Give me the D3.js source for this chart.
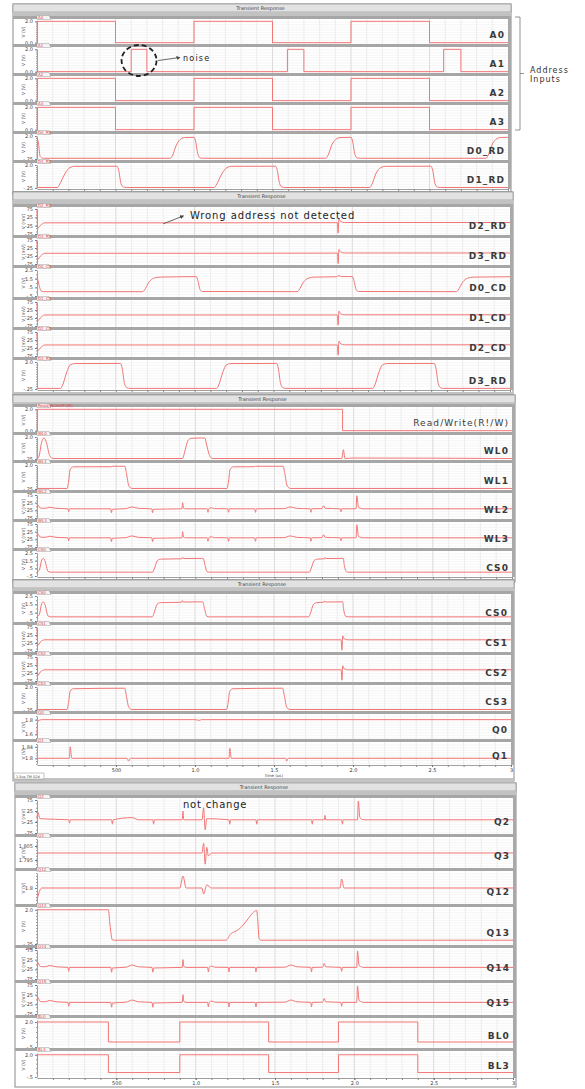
<!DOCTYPE html>
<html>
<head>
<meta charset="utf-8">
<script src="https://cdn.jsdelivr.net/npm/d3@7"></script>
<style>
body { margin: 0; background: #fff; }
svg { display: block; }
text { font-family: "DejaVu Sans", sans-serif; }
</style>
</head>
<body>
<script>
// time axis (us)
var tMax = 3.0;
var xTickVals = [0.5, 1.0, 1.5, 2.0, 2.5, 3.0];
var xTickText = ['500', '1.0', '1.5', '2.0', '2.5', '3'];

// ---- signals: [time (us), value] ----
var A0 = [[0,0],[0.002,2],[0.5,0],[1.0,2],[1.5,0],[2.0,2],[2.5,0],[3,0]];
var A1 = [[0,0],[0.6,2],[0.7,0],[1.595,2],[1.7,0],[2.59,2],[2.7,0],[3,0]];
var A2 = [[0,0],[0.002,2],[0.5,0],[1.0,2],[1.5,0],[2.0,2],[2.5,0],[3,0]];
var A3 = [[0,0],[0.002,2],[0.5,0],[1.0,2],[1.5,0],[2.0,2],[2.5,0],[3,0]];

var D0_RD = [[0,1.9],[0.01,1.2],[0.02,0.0],[0.04,-0.18],[0.85,-0.18],[0.86,0.0],[0.89,1.2],[0.92,1.75],[0.94,1.85],[1.0,1.87],[1.01,1.5],[1.025,0.2],[1.04,-0.15],[1.06,-0.18],
  [1.84,-0.18],[1.85,0.0],[1.88,1.2],[1.91,1.75],[1.93,1.85],[2.0,1.87],[2.01,1.5],[2.025,0.2],[2.04,-0.15],[2.06,-0.18],[2.86,-0.18],[2.87,0],[2.9,1.2],[2.93,1.75],[2.95,1.85],[3,1.87]];
var D1_RD = [[0,-0.2],[0.13,-0.2],[0.14,0],[0.18,1.2],[0.21,1.75],[0.24,1.87],[0.51,1.88],[0.52,1.5],[0.535,0.2],[0.55,-0.15],[0.57,-0.2],
  [1.13,-0.2],[1.14,0],[1.18,1.2],[1.21,1.75],[1.24,1.87],[1.52,1.88],[1.53,1.5],[1.545,0.2],[1.56,-0.15],[1.58,-0.2],
  [2.12,-0.2],[2.13,0],[2.16,1.2],[2.19,1.75],[2.22,1.87],[2.51,1.88],[2.52,1.5],[2.535,0.2],[2.55,-0.15],[2.57,-0.2],[3,-0.2]];

// mV traces with a single glitch near 1.91 us
var D2_RD = [[0,75],[0.005,-40],[0.02,-25],[0.05,-8],[1.0,-8],[1.905,-7],[1.91,-70],[1.915,18],[1.925,0],[1.95,-6],[3,-6]];
var D3_RD = [[0,70],[0.005,-45],[0.02,-28],[0.05,-8],[1.0,-8],[1.905,-7],[1.91,-72],[1.915,16],[1.925,0],[1.95,-6],[3,-6]];
var D0_CD = [[0,1.7],[0.01,1.0],[0.025,0.1],[0.04,0],[0.67,0],[0.68,0.15],[0.71,1.1],[0.74,1.55],[0.78,1.68],[0.9,1.72],[1.01,1.74],[1.02,1.3],[1.035,0.2],[1.05,0.02],
  [1.65,0],[1.66,0.15],[1.69,1.1],[1.72,1.55],[1.76,1.68],[1.9,1.72],[1.915,1.85],[1.93,1.74],[2.0,1.74],[2.01,1.3],[2.025,0.2],[2.04,0.02],
  [2.66,0],[2.67,0.15],[2.7,1.1],[2.73,1.55],[2.77,1.68],[3,1.72]];
var D1_CD = [[0,72],[0.005,-42],[0.02,-26],[0.05,-6],[1.0,-6],[1.905,-6],[1.91,-70],[1.915,18],[1.925,2],[1.95,-5],[3,-5]];
var D2_CD = [[0,72],[0.005,-42],[0.02,-26],[0.05,-6],[1.0,-6],[1.905,-6],[1.91,-70],[1.915,18],[1.925,2],[1.95,-5],[3,-5]];
var D3_RD2 = [[0,-0.2],[0.15,-0.2],[0.16,0],[0.19,1.2],[0.21,1.75],[0.24,1.87],[0.53,1.88],[0.54,1.5],[0.555,0.2],[0.57,-0.15],[0.59,-0.2],
  [1.14,-0.2],[1.15,0],[1.18,1.2],[1.2,1.75],[1.23,1.87],[1.52,1.88],[1.53,1.5],[1.545,0.2],[1.56,-0.15],[1.58,-0.2],
  [2.13,-0.2],[2.14,0],[2.17,1.2],[2.19,1.75],[2.22,1.87],[2.52,1.88],[2.53,1.5],[2.545,0.2],[2.56,-0.15],[2.58,-0.2],[3,-0.2]];

var RW = [[0,0],[0.002,2],[1.93,0],[3,0]];
var WL0 = [[0,-0.2],[0.01,-0.1],[0.03,1.5],[0.045,1.9],[0.06,1.4],[0.08,0.1],[0.1,-0.2],[0.92,-0.2],[0.93,0.3],[0.95,1.5],[0.97,1.85],[1.04,1.9],[1.06,1.88],[1.07,1.3],[1.09,0.1],[1.11,-0.2],
  [1.925,-0.2],[1.935,0.7],[1.945,-0.2],[2.0,-0.15],[3,-0.2]];
var WL1 = [[0,-0.2],[0.19,-0.2],[0.2,0.5],[0.21,1.6],[0.23,1.83],[0.47,1.84],[0.48,1.88],[0.555,1.88],[0.565,1.2],[0.58,0.05],[0.6,-0.2],
  [1.2,-0.2],[1.21,0.5],[1.22,1.6],[1.24,1.83],[1.37,1.84],[1.38,1.88],[1.555,1.88],[1.565,1.2],[1.58,0.05],[1.6,-0.2],[3,-0.2]];
var WL2 = [[0,-5],[0.005,10],[0.02,-10],[0.05,-12],[0.08,-5],[0.12,-12],[0.195,-15],[0.2,-35],[0.205,-15],[0.465,-15],[0.47,-40],[0.475,-18],[0.56,-14],[0.6,-3],[0.64,-12],
  [0.725,-15],[0.73,-40],[0.735,-18],[0.915,-15],[0.92,25],[0.925,-10],[0.94,-15],[1.075,-15],[1.08,-38],[1.085,-15],[1.1,-8],[1.12,-14],[1.205,-15],[1.21,-38],[1.215,-15],
  [1.375,-15],[1.38,-38],[1.385,-15],[1.56,-14],[1.6,-3],[1.64,-12],[1.725,-15],[1.73,-38],[1.735,-15],[1.8,-14],[1.81,5],[1.82,-12],[1.915,-15],[1.92,-35],[1.925,-15],
  [2.015,-15],[2.02,70],[2.03,-5],[2.06,-15],[3,-15]];
var WL3 = WL2;
var CS0 = [[0,0],[0.015,0.3],[0.03,1.6],[0.04,1.8],[0.05,1.5],[0.07,0.1],[0.09,0],[0.73,0],[0.74,0.4],[0.76,1.5],[0.78,1.7],[0.915,1.75],[0.92,1.95],[0.925,1.78],[1.04,1.8],[1.05,1.78],[1.06,1.0],[1.075,0.05],[1.09,0],
  [1.72,0],[1.73,0.4],[1.75,1.5],[1.77,1.7],[1.815,1.75],[1.82,1.92],[1.825,1.78],[1.935,1.8],[1.94,1.0],[1.955,0.05],[1.97,0],[3,0]];

var CS1 = [[0,70],[0.005,-40],[0.02,-20],[0.05,-5],[1.0,-5],[1.925,-5],[1.93,-70],[1.935,20],[1.945,0],[1.97,-5],[3,-5]];
var CS2 = [[0,70],[0.005,-40],[0.02,-20],[0.05,-5],[1.0,-5],[1.925,-5],[1.93,-70],[1.935,20],[1.945,0],[1.97,-5],[3,-5]];
var CS3 = [[0,-0.2],[0.19,-0.2],[0.2,0.5],[0.21,1.6],[0.23,1.83],[0.555,1.88],[0.565,1.2],[0.58,0.05],[0.6,-0.2],
  [1.2,-0.2],[1.21,0.5],[1.22,1.6],[1.24,1.83],[1.555,1.88],[1.565,1.2],[1.58,0.05],[1.6,-0.2],[3,-0.2]];
var Q0 = [[0,1.6],[0.005,1.78],[0.03,1.8],[1.0,1.8],[1.03,1.79],[1.04,1.8],[3,1.8]];
var Q1 = [[0,1.8],[0.205,1.8],[0.21,1.84],[0.22,1.8],[0.57,1.8],[0.58,1.79],[0.59,1.8],[1.215,1.8],[1.22,1.835],[1.23,1.8],[1.575,1.8],[1.58,1.79],[1.59,1.8],[3,1.8]];

var Q2 = [[0,-10],[0.005,20],[0.02,-10],[0.2,-15],[0.205,-30],[0.21,-15],[0.47,-15],[0.475,-35],[0.48,-15],[0.6,-5],[0.64,-15],[0.73,-15],[0.735,-35],[0.74,-15],
  [0.915,-15],[0.92,25],[0.925,-15],[1.04,-15],[1.05,40],[1.06,-60],[1.07,-10],[1.21,-15],[1.215,-35],[1.22,-15],[1.38,-15],[1.385,-35],[1.39,-15],
  [1.73,-15],[1.735,-35],[1.74,-15],[1.81,-15],[1.815,5],[1.82,-15],[1.92,-15],[1.925,-35],[1.93,-15],[2.02,-15],[2.025,70],[2.035,-5],[2.06,-15],[3,-15]];
var Q3 = [[0,1.8],[1.04,1.8],[1.05,1.807],[1.06,1.792],[1.07,1.804],[1.08,1.798],[1.1,1.8],[3,1.8]];
var Q12 = [[0,1.76],[0.01,1.78],[0.03,1.8],[0.9,1.8],[0.92,1.84],[0.94,1.8],[1.04,1.8],[1.05,1.78],[1.07,1.81],[1.1,1.8],[1.91,1.8],[1.92,1.83],[1.935,1.8],[3,1.8]];
var Q13 = [[0,2],[0.45,2],[0.46,1.0],[0.475,0.02],[0.49,0],[1.19,0],[1.22,0.4],[1.27,0.7],[1.3,1.0],[1.33,1.4],[1.36,1.8],[1.385,1.95],[1.39,1.5],[1.4,0.1],[1.41,0],[3,0]];
var Q14 = WL2;
var Q15 = WL2;
var BL0 = [[0,0],[0.003,2],[0.45,0],[0.9,2],[1.46,0],[1.9,2],[2.4,0],[3,0]];
var BL3 = [[0,0],[0.003,2],[0.45,0],[0.9,2],[1.46,0],[1.9,2],[2.4,0],[3,0]];

// y tick labels
var tkLogic = ['2.0', '0.0'];
var tkRD = ['2.0', '-.25'];
var tkMilli = ['75', '25', '-25', '-75'];
var tkCD = ['2.5', '1.5', '.5', '-.5'];
var tkQ0 = ['1.8', '1.6'];
var tkQ1 = ['1.84', '1.8'];
var tkQ3 = ['1.805', '1.795'];
var tkBL = ['2.0', '-.5'];

// panels: [label, data, domain, ticks, unit, step]
var panels1 = [
  ['A0', A0, [-0.03, 2.03], tkLogic, 'V (V)', true],
  ['A1', A1, [-0.03, 2.03], tkLogic, 'V (V)', true],
  ['A2', A2, [-0.03, 2.03], tkLogic, 'V (V)', true],
  ['A3', A3, [-0.03, 2.03], tkLogic, 'V (V)', true],
  ['D0_RD', D0_RD, [-0.25, 2.0], tkRD, 'V (V)', false],
  ['D1_RD', D1_RD, [-0.25, 2.0], tkRD, 'V (V)', false]
];
var panels2 = [
  ['D2_RD', D2_RD, [-75, 75], tkMilli, 'V (mV)', false],
  ['D3_RD', D3_RD, [-75, 75], tkMilli, 'V (mV)', false],
  ['D0_CD', D0_CD, [-0.5, 2.5], tkCD, 'V (V)', false],
  ['D1_CD', D1_CD, [-75, 75], tkMilli, 'V (mV)', false],
  ['D2_CD', D2_CD, [-75, 75], tkMilli, 'V (mV)', false],
  ['D3_RD', D3_RD2, [-0.25, 2.0], tkRD, 'V (V)', false]
];
var panels3 = [
  ['Read/Write(R!/W)', RW, [-0.03, 2.03], tkLogic, 'V (V)', true],
  ['WL0', WL0, [-0.25, 2.0], tkRD, 'V (V)', false],
  ['WL1', WL1, [-0.25, 2.0], tkRD, 'V (V)', false],
  ['WL2', WL2, [-75, 75], tkMilli, 'V (mV)', false],
  ['WL3', WL3, [-75, 75], tkMilli, 'V (mV)', false],
  ['CS0', CS0, [-0.5, 2.5], tkCD, 'V (V)', false]
];
var panels4 = [
  ['CS0', CS0, [-0.5, 2.5], tkCD, 'V (V)', false],
  ['CS1', CS1, [-75, 75], tkMilli, 'V (mV)', false],
  ['CS2', CS2, [-75, 75], tkMilli, 'V (mV)', false],
  ['CS3', CS3, [-0.25, 2.0], tkRD, 'V (V)', false],
  ['Q0', Q0, [1.55, 1.85], tkQ0, 'V (V)', false],
  ['Q1', Q1, [1.78, 1.85], tkQ1, 'V (V)', false]
];
var panels5 = [
  ['Q2', Q2, [-75, 75], tkMilli, 'V (mV)', false],
  ['Q3', Q3, [1.79, 1.81], tkQ3, 'V (V)', false],
  ['Q12', Q12, [1.75, 1.85], tkQ0, 'V (V)', false],
  ['Q13', Q13, [-0.25, 2.05], tkRD, 'V (V)', false],
  ['Q14', Q14, [-75, 75], tkMilli, 'V (mV)', false],
  ['Q15', Q15, [-75, 75], tkMilli, 'V (mV)', false],
  ['BL0', BL0, [-0.5, 2.2], tkBL, 'V (V)', true],
  ['BL3', BL3, [-0.5, 2.2], tkBL, 'V (V)', true]
];

// window layout
var groups = [
  { y0: 4,   fl: 13, fr: 511, pl: 37, pr: 508, lab: 6, tops: [16, 44, 73, 102, 131, 160, 189], panels: panels1, axis: 0 },
  { y0: 192, fl: 13, fr: 513, pl: 37, pr: 510, lab: 6, tops: [204, 235, 265, 297, 327, 357, 390], panels: panels2, axis: 0 },
  { y0: 395, fl: 13, fr: 515, pl: 37, pr: 512, lab: 6, tops: [404, 432, 460, 490, 519, 548, 577], panels: panels3, axis: 0 },
  { y0: 580, fl: 13, fr: 514, pl: 37, pr: 511, lab: 6, tops: [591, 622, 652, 682, 711, 739, 765], panels: panels4, axis: 2 },
  { y0: 783, fl: 15, fr: 516, pl: 37, pr: 513, lab: 9, tops: [795, 834, 868, 904, 945, 980, 1015, 1048, 1078], panels: panels5, axis: 1 }
];

var red = '#f37575', band = '#a6a6a6';
var svg = d3.select('body').append('svg').attr('width', 585).attr('height', 1089);
var scales = [];

groups.forEach(function(g, gi) {
  var G = svg.append('g');
  var bottom = g.tops[g.tops.length - 1];
  var frameB = bottom + (g.axis === 2 ? 16 : g.axis === 1 ? 9 : 5);
  var x = d3.scaleLinear().domain([0, tMax]).range([g.pl, g.pr]);
  scales[gi] = { x: x, y: [] };

  G.append('rect').attr('x', g.fl).attr('y', g.y0).attr('width', g.fr - g.fl).attr('height', frameB - g.y0)
    .attr('fill', '#fff').attr('stroke', '#8a8a8a').attr('stroke-width', 1);
  G.append('rect').attr('x', g.fl).attr('y', g.y0).attr('width', g.fr - g.fl).attr('height', 8)
    .attr('fill', '#e2e2e2').attr('stroke', '#8a8a8a').attr('stroke-width', 0.6);
  G.append('text').attr('x', (g.fl + g.pr) / 2).attr('y', g.y0 + 6).attr('text-anchor', 'middle')
    .attr('font-size', 5).attr('fill', '#444').text('Transient Response');
  G.append('rect').attr('x', g.fl).attr('y', g.y0 + 8).attr('width', g.fr - g.fl).attr('height', g.tops[0] - g.y0 - 8)
    .attr('fill', '#c2c2c2');
  G.append('rect').attr('x', g.pr).attr('y', g.tops[0]).attr('width', g.fr - g.pr).attr('height', bottom - g.tops[0])
    .attr('fill', '#a9a9a9');
  if (g.axis !== 1) {
    G.append('rect').attr('x', g.fl).attr('y', frameB - 3).attr('width', g.fr - g.fl).attr('height', 3).attr('fill', '#c2c2c2');
  }

  g.panels.forEach(function(p, i) {
    var top = g.tops[i], bot = g.tops[i + 1];
    var y = d3.scaleLinear().domain(p[2]).range([bot - 1, top + 5]);
    scales[gi].y[i] = y;
    var P = G.append('g');

    // grid
    P.selectAll('.hg').data(d3.range(top + 6, bot - 1, 2.6)).enter().append('line')
      .attr('x1', g.pl).attr('x2', g.pr).attr('y1', function(d) { return d; }).attr('y2', function(d) { return d; })
      .attr('stroke', '#efefef').attr('stroke-width', 0.6);
    P.selectAll('.vg').data(d3.range(1, 30)).enter().append('line')
      .attr('x1', function(d) { return x(d / 10); }).attr('x2', function(d) { return x(d / 10); })
      .attr('y1', top + 3).attr('y2', bot)
      .attr('stroke', function(d) { return d % 5 === 0 ? '#cfcfcf' : '#e6e6e6'; }).attr('stroke-width', 0.7);

    // y axis
    var vals = p[3].map(Number);
    var ax = P.append('g').attr('transform', 'translate(' + g.pl + ',0)')
      .call(d3.axisLeft(y).tickValues(vals).tickFormat(function(d, k) { return p[3][k]; }).tickSize(2).tickSizeOuter(0));
    ax.select('.domain').attr('stroke', '#777').attr('stroke-width', 0.7);
    ax.selectAll('line').attr('stroke', '#777');
    ax.selectAll('text').attr('font-size', 5).attr('fill', '#444').attr('dx', 1);
    P.append('g').attr('transform', 'translate(' + g.pl + ',0)')
      .call(d3.axisLeft(y).ticks(8).tickFormat('').tickSize(1).tickSizeOuter(0))
      .call(function(s) { s.select('.domain').remove(); s.selectAll('line').attr('stroke', '#999'); });
    P.append('text').attr('transform', 'translate(' + (g.pl - 12) + ',' + ((top + bot) / 2 + 2) + ') rotate(-90)')
      .attr('text-anchor', 'middle').attr('font-size', 4.5).attr('fill', '#555').text(p[4]);

    // trace
    var line = d3.line().x(function(d) { return x(d[0]); }).y(function(d) { return y(d[1]); })
      .curve(p[5] ? d3.curveStepAfter : d3.curveMonotoneX);
    P.append('path').datum(p[1]).attr('d', line).attr('fill', 'none')
      .attr('stroke', red).attr('stroke-width', 1);

    // header band with name tab
    P.append('rect').attr('x', g.fl).attr('y', top).attr('width', g.pr - g.fl).attr('height', 3).attr('fill', band);
    P.append('path').attr('d', 'M' + g.pl + ',' + (top - 0.5) + 'h12l2,4h-14z').attr('fill', '#f4f4f4').attr('stroke', '#888').attr('stroke-width', 0.4);
    P.append('text').attr('x', g.pl + 1).attr('y', top + 3).attr('font-size', 4).attr('fill', '#e04848').text(p[0]);

    // right label
    P.append('text').attr('x', g.pr - 3).attr('y', bot - g.lab).attr('text-anchor', 'end')
      .attr('font-size', 9).attr('font-weight', p[0].length > 8 ? 'normal' : 'bold').attr('letter-spacing', 1.1)
      .attr('fill', '#3a3a3a').text(p[0]);
  });

  // time axis
  var xa = G.append('g').attr('transform', 'translate(0,' + bottom + ')')
    .call(d3.axisBottom(x).tickValues(d3.range(1, 31).map(function(d) { return d / 10; })).tickFormat('').tickSize(2).tickSizeOuter(0));
  xa.select('.domain').attr('stroke', '#777').attr('stroke-width', 0.7);
  xa.selectAll('line').attr('stroke', '#888');
  if (g.axis) {
    var xl = G.append('g').attr('transform', 'translate(0,' + bottom + ')')
      .call(d3.axisBottom(x).tickValues(xTickVals).tickFormat(function(d, k) { return xTickText[k]; }).tickSize(2).tickPadding(1).tickSizeOuter(0));
    xl.select('.domain').remove();
    xl.selectAll('line').attr('stroke', '#777');
    xl.selectAll('text').attr('font-size', 5).attr('fill', '#333');
  }
  if (g.axis === 2) {
    G.append('text').attr('x', x(1.5)).attr('y', bottom + 12).attr('text-anchor', 'middle')
      .attr('font-size', 4).attr('fill', '#444').text('time (us)');
    G.append('rect').attr('x', g.fl + 1).attr('y', bottom + 8).attr('width', 30).attr('height', 6)
      .attr('fill', '#fff').attr('stroke', '#888').attr('stroke-width', 0.5);
    G.append('text').attr('x', g.fl + 3).attr('y', bottom + 12.5).attr('font-size', 3.5).attr('fill', '#444').text('1.5us   TM 02d');
  }
});

// ---- annotations ----
var ann = svg.append('g');
svg.append('defs').append('marker').attr('id', 'arr').attr('viewBox', '0 0 10 10').attr('refX', 9).attr('refY', 5)
  .attr('markerWidth', 5).attr('markerHeight', 5).attr('orient', 'auto')
  .append('path').attr('d', 'M0,0L10,5L0,10z').attr('fill', '#444');

// noise on A1
var xs = scales[0].x, yA1 = scales[0].y[1];
ann.append('ellipse').attr('cx', xs(0.65)).attr('cy', yA1(1.0)).attr('rx', 17.5).attr('ry', 15.5)
  .attr('fill', 'none').attr('stroke', '#222').attr('stroke-width', 1.8).attr('stroke-dasharray', '5,3');
ann.append('line').attr('x1', xs(0.65) + 19).attr('y1', yA1(1.0)).attr('x2', xs(0.65) + 41).attr('y2', yA1(1.0) - 3)
  .attr('stroke', '#444').attr('stroke-width', 0.8).attr('marker-end', 'url(#arr)');
ann.append('text').attr('x', xs(0.65) + 44).attr('y', yA1(1.0)).attr('font-size', 8).attr('letter-spacing', 1.2)
  .attr('fill', '#222').text('noise');

// address bracket
var bx = 520, bt = 17, bb = 130;
ann.append('path').attr('d', 'M' + (bx - 5) + ',' + bt + 'H' + bx + 'V' + bb + 'H' + (bx - 5) + 'M' + bx + ',' + ((bt + bb) / 2) + 'h4')
  .attr('fill', 'none').attr('stroke', '#777').attr('stroke-width', 0.8);
ann.append('text').attr('x', 530).attr('y', 73).attr('font-size', 8).attr('letter-spacing', 1).attr('fill', '#333').text('Address');
ann.append('text').attr('x', 530).attr('y', 82).attr('font-size', 8).attr('letter-spacing', 1).attr('fill', '#333').text('Inputs');

// wrong address arrow on D2_RD
var x2 = scales[1].x, yD2 = scales[1].y[0];
ann.append('line').attr('x1', x2(0.8)).attr('y1', yD2(-8) + 1).attr('x2', x2(0.93)).attr('y2', yD2(-8) - 7)
  .attr('stroke', '#444').attr('stroke-width', 0.8).attr('marker-end', 'url(#arr)');
ann.append('text').attr('x', x2(0.97)).attr('y', yD2(-8) - 4).attr('font-size', 10).attr('letter-spacing', 0.9)
  .attr('fill', '#222').text('Wrong address not detected');

// not change on Q2
var x5 = scales[4].x, yQ2 = scales[4].y[0];
ann.append('text').attr('x', x5(0.92)).attr('y', yQ2(40)).attr('font-size', 10).attr('letter-spacing', 0.8)
  .attr('fill', '#222').text('not change');
</script>
</body>
</html>
